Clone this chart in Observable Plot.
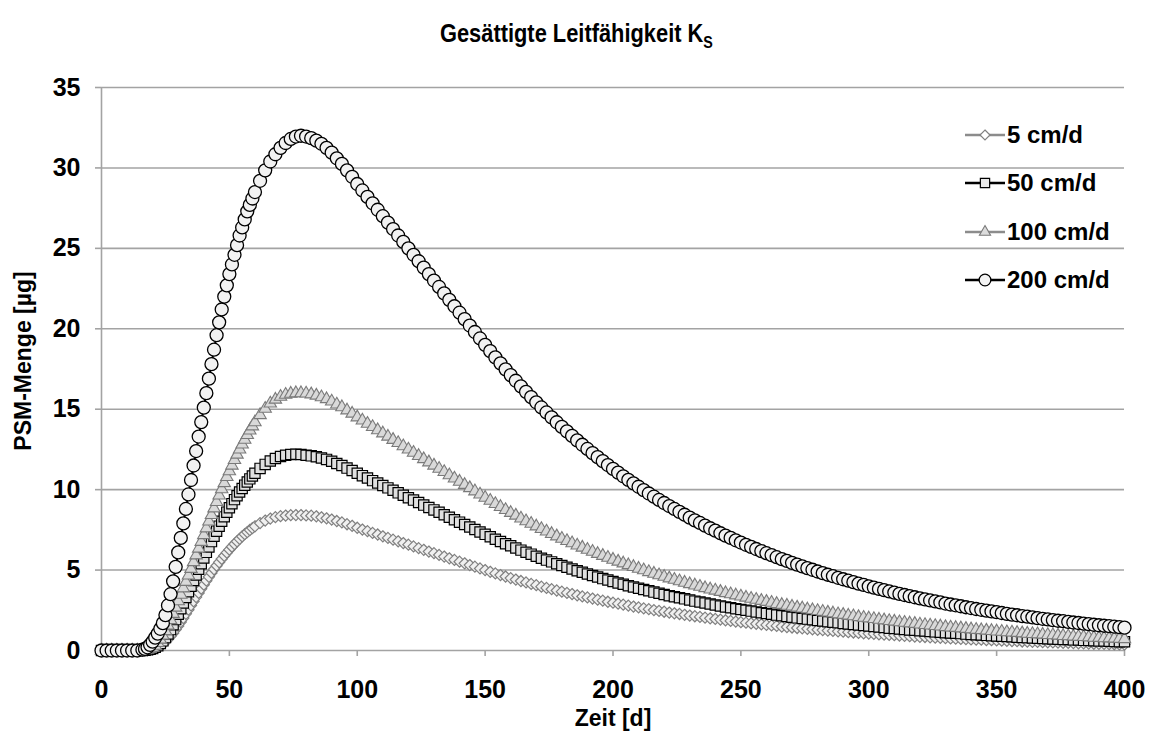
<!DOCTYPE html>
<html>
<head>
<meta charset="utf-8">
<script src="https://cdn.jsdelivr.net/npm/d3@7"></script>
<script src="https://cdn.jsdelivr.net/npm/@observablehq/plot@0.6"></script>
<style>
  html, body { margin: 0; padding: 0; background: #fff; }
  #wrap { position: relative; width: 1153px; height: 744px; font-family: "Liberation Sans", Arial, sans-serif; font-weight: bold; color: #000; }
  #title { position: absolute; left: 0; top: 18px; width: 1153px; text-align: center; font-size: 26px; line-height: 30px; }
  #title .t { display: inline-block; transform: scaleX(0.84); transform-origin: 50% 50%; }
  #title sub { font-size: 17px; vertical-align: -6px; }
  #chart { position: absolute; left: 0; top: 60px; }
  #legend { position: absolute; left: 963px; top: 0; }
  .item { position: absolute; left: 0; height: 28px; white-space: nowrap; font-size: 24px; line-height: 28px; }
  .item svg { position: absolute; left: 0; top: 2px; }
  .item span { position: absolute; left: 44px; top: 0; }
</style>
</head>
<body>
<div id="wrap">
  <div id="title"><span class="t">Gesättigte Leitfähigkeit K<sub>S</sub></span></div>
  <div id="chart"></div>
  <div id="legend"></div>
</div>
<script>
// ---- data ----
const seriesNames = ["5 cm/d", "50 cm/d", "100 cm/d", "200 cm/d"];
const xTicks = [0, 50, 100, 150, 200, 250, 300, 350, 400];
const yTicks = [0, 5, 10, 15, 20, 25, 30, 35];

const days = [0,2,4,6,8,10,12,14,16,
17,18,19,20,21,22,23,24,25,26,27,28,29,30,31,32,33,34,35,36,37,38,39,40,41,42,43,44,45,46,47,48,49,50,51,52,53,54,55,56,57,58,59,60,
62,64,66,68,70,72,74,76,78,80,82,84,86,88,90,92,94,96,98,100,102,104,106,108,110,112,114,116,118,120,122,124,126,128,130,132,134,136,138,140,142,144,146,148,
150,152,154,156,158,160,162,164,166,168,170,172,174,176,178,180,182,184,186,188,190,192,194,196,198,200,202,204,206,208,210,212,214,216,218,220,222,224,226,228,230,232,234,236,238,240,242,244,246,248,250,
252,254,256,258,260,262,264,266,268,270,272,274,276,278,280,282,284,286,288,290,292,294,296,298,300,302,304,306,308,310,312,314,316,318,320,322,324,326,328,330,332,334,336,338,340,342,344,346,348,350,
352,354,356,358,360,362,364,366,368,370,372,374,376,378,380,382,384,386,388,390,392,394,396,398,400];

const ks200 = [0,0,0,0,0,0,0,0,0.05,
0.1,0.2,0.35,0.55,0.8,1.05,1.35,1.7,2.2,2.8,3.5,4.3,5.2,6.1,7.0,7.9,8.8,9.7,10.6,11.5,12.4,13.3,14.2,15.1,16.0,16.9,17.8,18.7,19.6,20.4,21.2,22.0,22.7,23.4,24.0,24.6,25.2,25.8,26.3,26.8,27.3,27.7,28.1,28.5,
29.2,29.85,30.4,30.85,31.25,31.55,31.8,31.95,32.0,31.95,31.85,31.7,31.5,31.25,30.95,30.6,30.25,29.85,29.45,29.0,28.6,28.2,27.8,27.4,27.0,26.6,26.2,25.8,25.4,25.0,24.6,24.2,23.8,23.4,23.0,22.6,22.2,21.8,21.4,21.0,20.6,20.2,19.8,19.4,
19.0,18.61,18.22,17.85,17.48,17.12,16.77,16.42,16.08,15.75,15.43,15.11,14.8,14.49,14.19,13.9,13.62,13.34,13.06,12.79,12.53,12.27,12.02,11.77,11.53,11.29,11.06,10.83,10.61,10.39,10.18,9.97,9.76,9.56,9.36,9.17,8.98,8.8,8.62,8.44,8.26,8.09,7.93,7.76,7.6,7.45,7.29,7.14,7.0,6.85,6.71,
6.57,6.44,6.31,6.18,6.05,5.93,5.8,5.68,5.57,5.45,5.34,5.23,5.12,5.02,4.91,4.81,4.71,4.62,4.52,4.43,4.34,4.25,4.16,4.08,3.99,3.91,3.83,3.75,3.67,3.6,3.52,3.45,3.38,3.31,3.24,3.18,3.11,3.05,2.99,2.92,2.86,2.81,2.75,2.69,2.64,2.58,2.53,2.48,2.43,2.38,
2.33,2.28,2.23,2.19,2.14,2.1,2.06,2.01,1.97,1.93,1.89,1.85,1.82,1.78,1.74,1.71,1.67,1.64,1.6,1.57,1.54,1.51,1.48,1.45,1.42];

const ks100 = [0,0,0,0,0,0,0,0,0,
0.02,0.05,0.1,0.18,0.3,0.47,0.68,0.93,1.22,1.55,1.9,2.28,2.67,3.07,3.47,3.87,4.27,4.67,5.08,5.5,5.92,6.34,6.76,7.18,7.6,8.02,8.43,8.84,9.24,9.64,10.03,10.41,10.79,11.15,11.5,11.85,12.18,12.5,12.81,13.11,13.4,13.68,13.94,14.19,
14.64,15.03,15.36,15.6,15.78,15.9,15.97,16.0,16.0,15.98,15.93,15.85,15.75,15.63,15.48,15.3,15.13,14.93,14.73,14.5,14.3,14.1,13.9,13.7,13.5,13.3,13.1,12.9,12.7,12.5,12.3,12.1,11.9,11.7,11.5,11.3,11.1,10.9,10.7,10.5,10.3,10.1,9.9,9.7,
9.5,9.31,9.11,8.93,8.74,8.56,8.39,8.21,8.04,7.88,7.72,7.56,7.4,7.25,7.1,6.95,6.81,6.67,6.53,6.4,6.27,6.14,6.01,5.89,5.77,5.65,5.53,5.42,5.31,5.2,5.09,4.99,4.88,4.78,4.68,4.59,4.49,4.4,4.31,4.22,4.13,4.05,3.97,3.88,3.8,3.73,3.65,3.57,3.5,3.43,3.36,
3.29,3.22,3.16,3.09,3.03,2.97,2.9,2.84,2.79,2.73,2.67,2.62,2.56,2.51,2.46,2.41,2.36,2.31,2.26,2.22,2.17,2.13,2.08,2.04,2.0,1.96,1.92,1.88,1.84,1.8,1.76,1.73,1.69,1.66,1.62,1.59,1.56,1.53,1.5,1.46,1.43,1.41,1.38,1.35,1.32,1.29,1.27,1.24,1.22,1.19,
1.17,1.14,1.12,1.1,1.07,1.05,1.03,1.01,0.99,0.97,0.95,0.93,0.91,0.89,0.87,0.86,0.84,0.82,0.8,0.79,0.77,0.76,0.74,0.73,0.71];

const ks50 = [0,0,0,0,0,0,0,0,0,
0.02,0.04,0.07,0.12,0.2,0.3,0.43,0.6,0.8,1.03,1.3,1.6,1.92,2.25,2.6,2.95,3.3,3.65,4.0,4.35,4.7,5.05,5.4,5.75,6.1,6.44,6.77,7.1,7.42,7.73,8.03,8.32,8.6,8.87,9.13,9.38,9.62,9.85,10.07,10.28,10.48,10.67,10.85,11.02,
11.32,11.57,11.78,11.94,12.06,12.14,12.19,12.2,12.18,12.14,12.1,12.05,11.97,11.88,11.76,11.63,11.5,11.34,11.19,11.02,10.87,10.72,10.56,10.41,10.26,10.11,9.96,9.8,9.65,9.5,9.35,9.2,9.04,8.89,8.74,8.59,8.44,8.28,8.13,7.98,7.83,7.68,7.52,7.37,
7.22,7.07,6.92,6.78,6.64,6.51,6.37,6.24,6.11,5.99,5.86,5.74,5.62,5.51,5.39,5.28,5.18,5.07,4.96,4.86,4.76,4.66,4.57,4.47,4.38,4.29,4.2,4.12,4.03,3.95,3.87,3.79,3.71,3.63,3.56,3.48,3.41,3.34,3.28,3.21,3.14,3.07,3.01,2.95,2.89,2.83,2.77,2.71,2.66,2.6,2.55,
2.5,2.45,2.4,2.35,2.3,2.25,2.2,2.16,2.12,2.07,2.03,1.99,1.95,1.91,1.87,1.83,1.79,1.76,1.72,1.68,1.65,1.62,1.58,1.55,1.52,1.49,1.46,1.43,1.39,1.37,1.34,1.31,1.28,1.26,1.23,1.21,1.18,1.16,1.14,1.11,1.09,1.07,1.05,1.02,1.0,0.98,0.96,0.94,0.92,0.9,
0.89,0.87,0.85,0.83,0.81,0.8,0.78,0.76,0.75,0.73,0.72,0.7,0.69,0.68,0.66,0.65,0.63,0.62,0.61,0.6,0.59,0.57,0.56,0.55,0.54];

const ks5 = [0,0,0,0,0,0,0,0,0,
0.01,0.02,0.04,0.07,0.12,0.19,0.28,0.4,0.54,0.7,0.88,1.08,1.3,1.53,1.77,2.02,2.28,2.54,2.8,3.06,3.32,3.58,3.84,4.09,4.34,4.58,4.82,5.05,5.27,5.48,5.69,5.89,6.08,6.27,6.45,6.62,6.78,6.94,7.09,7.23,7.36,7.49,7.61,7.72,
7.92,8.08,8.2,8.29,8.35,8.39,8.41,8.42,8.42,8.4,8.38,8.34,8.28,8.22,8.14,8.05,7.96,7.85,7.75,7.63,7.52,7.42,7.31,7.21,7.1,7.0,6.89,6.79,6.68,6.58,6.47,6.36,6.26,6.15,6.05,5.94,5.84,5.73,5.63,5.52,5.42,5.31,5.21,5.1,
5.0,4.89,4.79,4.69,4.6,4.5,4.41,4.32,4.23,4.14,4.06,3.97,3.89,3.81,3.73,3.66,3.58,3.51,3.43,3.36,3.3,3.23,3.16,3.1,3.03,2.97,2.91,2.85,2.79,2.73,2.68,2.62,2.57,2.51,2.46,2.41,2.36,2.31,2.27,2.22,2.17,2.13,2.09,2.04,2.0,1.96,1.92,1.88,1.84,1.8,1.76,
1.73,1.69,1.66,1.63,1.59,1.56,1.53,1.49,1.46,1.43,1.4,1.38,1.35,1.32,1.29,1.27,1.24,1.22,1.19,1.17,1.14,1.12,1.09,1.07,1.05,1.03,1.01,0.99,0.97,0.95,0.93,0.91,0.89,0.87,0.85,0.84,0.82,0.8,0.79,0.77,0.75,0.74,0.72,0.71,0.69,0.68,0.67,0.65,0.64,0.63,
0.61,0.6,0.59,0.58,0.56,0.55,0.54,0.53,0.52,0.51,0.5,0.49,0.48,0.47,0.46,0.45,0.44,0.43,0.42,0.41,0.41,0.4,0.39,0.38,0.37];

// ---- styling per series ----
const styles = [
  {name: seriesNames[0], values: ks5,   symbol: "diamond2", r: 5.0, line: "#8c8c8c", fill: "#f0f0f0", stroke: "#808080", sw: 1.2, legendFill: "#ffffff"},
  {name: seriesNames[1], values: ks50,  symbol: "square",   r: 5.8, line: "#000000", fill: "#e0e0e0", stroke: "#000000", sw: 1.2, legendFill: "#e8e8e8"},
  {name: seriesNames[2], values: ks100, symbol: "triangle", r: 4.6, line: "#8c8c8c", fill: "#d9d9d9", stroke: "#7a7a7a", sw: 1.1, legendFill: "#dcdcdc"},
  {name: seriesNames[3], values: ks200, symbol: "circle",   r: 6.5, line: "#000000", fill: "#f2f2f2", stroke: "#000000", sw: 1.3, legendFill: "#f4f4f4"}
];

const tables = styles.map(s => days.map((d, i) => ({day: d, value: s.values[i], series: s.name})));

const gridColor = "#a3a3a3";
const marks = [
  Plot.ruleY(yTicks.filter(v => v > 0), {stroke: gridColor, strokeWidth: 1.6}),
  Plot.ruleX([0], {stroke: gridColor, strokeWidth: 1.6}),
  Plot.ruleY([0], {stroke: gridColor, strokeWidth: 1.6}),
  Plot.axisY({ticks: yTicks, tickSize: 6, tickPadding: 15, stroke: gridColor, strokeWidth: 1.6, label: null, fontSize: 25, fontWeight: "bold"}),
  Plot.axisX({ticks: xTicks, tickSize: 6, tickPadding: 24, stroke: gridColor, strokeWidth: 1.6, label: null, fontSize: 25, fontWeight: "bold"})
];
styles.forEach((s, k) => {
  marks.push(Plot.line(tables[k], {x: "day", y: "value", stroke: s.line, strokeWidth: 2}));
  marks.push(Plot.dot(tables[k], {x: "day", y: "value", symbol: s.symbol, r: s.r, fill: s.fill, stroke: s.stroke, strokeWidth: s.sw}));
});
marks.push(Plot.text(["PSM-Menge [µg]"], {frameAnchor: "left", textAnchor: "middle", lineAnchor: "middle", dx: -78, dy: -8, rotate: -90, fontSize: 23, fontWeight: "bold"}));
marks.push(Plot.text(["Zeit [d]"], {frameAnchor: "bottom", textAnchor: "middle", lineAnchor: "middle", dy: 68, fontSize: 23, fontWeight: "bold"}));

const chart = Plot.plot({
  width: 1153,
  height: 684,
  marginLeft: 101,
  marginRight: 29,
  marginTop: 27,
  marginBottom: 94,
  x: {domain: [0, 400]},
  y: {domain: [0, 35]},
  style: {fontFamily: "'Liberation Sans', Arial, sans-serif", fontWeight: "bold", color: "#000", background: "#fff", overflow: "visible"},
  marks
});
document.getElementById("chart").appendChild(chart);

// ---- legend ----
const legendY = [135, 183, 232, 280];
const legend = d3.select("#legend");
styles.forEach((s, k) => {
  const item = legend.append("div").attr("class", "item").style("top", (legendY[k] - 14) + "px");
  const svg = item.append("svg").attr("width", 44).attr("height", 24);
  svg.append("line").attr("x1", 2).attr("x2", 42).attr("y1", 12).attr("y2", 12)
    .attr("stroke", s.line).attr("stroke-width", 2.6);
  const symMap = {diamond2: d3.symbolDiamond2, square: d3.symbolSquare, triangle: d3.symbolTriangle, circle: d3.symbolCircle};
  const size = Math.PI * Math.pow(s.r * 0.9, 2);
  svg.append("path").attr("transform", "translate(22,12)")
    .attr("d", d3.symbol(symMap[s.symbol], size)())
    .attr("fill", s.legendFill).attr("stroke", s.stroke).attr("stroke-width", s.sw);
  item.append("span").text(s.name);
});
</script>
</body>
</html>
